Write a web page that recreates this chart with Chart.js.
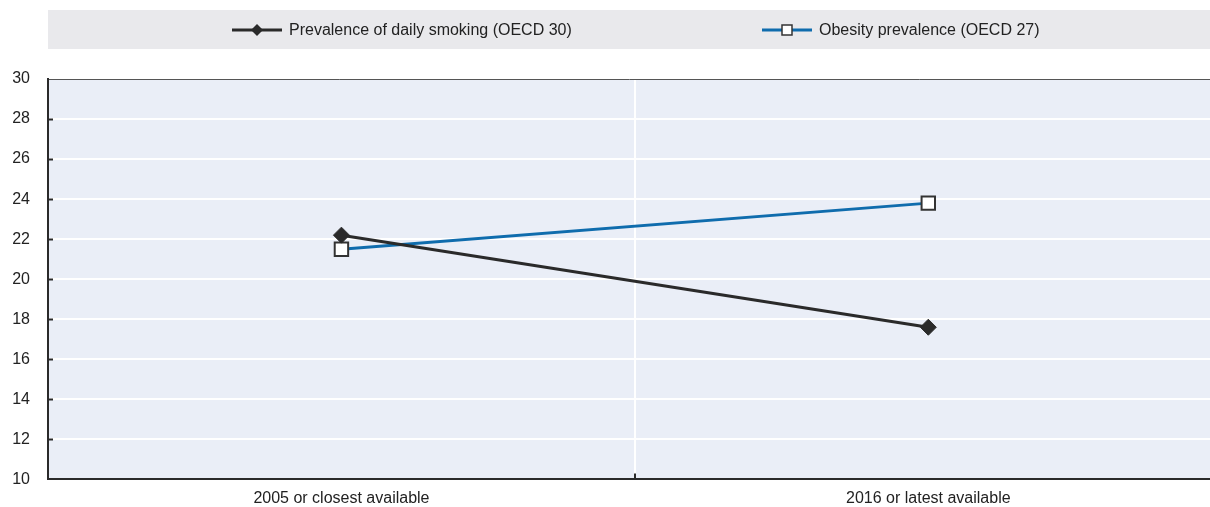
<!DOCTYPE html>
<html>
<head>
<meta charset="utf-8">
<script src="https://cdn.jsdelivr.net/npm/chart.js@4/dist/chart.umd.min.js"></script>
<style>
  html, body { margin: 0; padding: 0; background: #fff; overflow: hidden; }
  #wrap { width: 1210px; height: 507px; position: relative; }
</style>
</head>
<body>
<div id="wrap"><canvas id="c"></canvas></div>
<script>
const categories = ["2005 or closest available", "2016 or latest available"];
const smoking = [22.2, 17.6];
const obesity = [21.5, 23.8];
const seriesNames = ["Prevalence of daily smoking (OECD 30)", "Obesity prevalence (OECD 27)"];
const yTicks = [10, 12, 14, 16, 18, 20, 22, 24, 26, 28, 30];

const FONT = '"Liberation Sans Narrow", "Arial Narrow", "Liberation Sans", Arial, sans-serif';
const DARK = '#2a2a2a';
const BLUE = '#0f6cad';

// category index -> x position; the panel is cut at its right edge
const toPoints = vals => vals.map((v, i) => ({ x: i, y: v }));

// Background panel behind the plot and the legend strip above it
const panels = {
  id: 'panels',
  beforeDraw(chart) {
    const { ctx, chartArea: a } = chart;
    ctx.save();
    ctx.fillStyle = '#e9e9ec';
    ctx.fillRect(48, 10, chart.width - 48, 39);
    ctx.fillStyle = '#eaeef7';
    ctx.fillRect(a.left, a.top, a.right - a.left, a.bottom - a.top);
    ctx.restore();
  },
  afterDraw(chart) {
    const { ctx, chartArea: a, scales } = chart;
    ctx.save();
    // inward tick marks on the value axis
    ctx.strokeStyle = DARK;
    ctx.lineWidth = 2;
    yTicks.forEach(v => {
      if (v === 10 || v === 30) return;
      const y = Math.round(scales.y.getPixelForValue(v)) + 0.5;
      ctx.beginPath(); ctx.moveTo(a.left, y); ctx.lineTo(a.left + 5, y); ctx.stroke();
    });
    // inward tick mark between categories
    const mx = Math.round(scales.x.getPixelForValue(0.5));
    ctx.beginPath(); ctx.moveTo(mx, a.bottom); ctx.lineTo(mx, a.bottom - 6); ctx.stroke();

    // legend entries
    const items = [
      { x: 232, name: seriesNames[0], color: DARK, marker: 'diamond' },
      { x: 762, name: seriesNames[1], color: BLUE, marker: 'square' }
    ];
    const ly = 30;
    items.forEach(it => {
      ctx.strokeStyle = it.color;
      ctx.lineWidth = 3;
      ctx.beginPath(); ctx.moveTo(it.x, ly); ctx.lineTo(it.x + 50, ly); ctx.stroke();
      const cx = it.x + 25;
      if (it.marker === 'diamond') {
        ctx.fillStyle = DARK;
        ctx.beginPath();
        ctx.moveTo(cx, ly - 6); ctx.lineTo(cx + 6, ly); ctx.lineTo(cx, ly + 6); ctx.lineTo(cx - 6, ly);
        ctx.closePath(); ctx.fill();
      } else {
        ctx.fillStyle = '#fff';
        ctx.strokeStyle = '#333';
        ctx.lineWidth = 1.5;
        ctx.fillRect(cx - 5, ly - 5, 10, 10);
        ctx.strokeRect(cx - 5, ly - 5, 10, 10);
      }
      ctx.fillStyle = '#222';
      ctx.font = '16px ' + FONT;
      ctx.textBaseline = 'middle';
      ctx.textAlign = 'left';
      ctx.fillText(it.name, it.x + 57, ly + 1);
    });
    ctx.restore();
  }
};

new Chart(document.getElementById('c'), {
  type: 'line',
  data: {
    datasets: [
      {
        label: seriesNames[0],
        data: toPoints(smoking),
        borderColor: DARK,
        backgroundColor: DARK,
        borderWidth: 3,
        pointStyle: 'rectRot',
        pointRadius: 8,
        pointHoverRadius: 8,
        pointBackgroundColor: DARK,
        pointBorderColor: DARK,
        pointBorderWidth: 1
      },
      {
        label: seriesNames[1],
        data: toPoints(obesity),
        borderColor: BLUE,
        backgroundColor: BLUE,
        borderWidth: 3,
        pointStyle: 'rect',
        pointRadius: 9.5,
        pointHoverRadius: 9.5,
        pointBackgroundColor: '#ffffff',
        pointBorderColor: '#333333',
        pointBorderWidth: 2
      }
    ]
  },
  options: {
    responsive: true,
    maintainAspectRatio: false,
    animation: false,
    events: [],
    layout: { autoPadding: false, padding: { top: 79, right: 0, left: 0, bottom: 0 } },
    plugins: { legend: { display: false }, tooltip: { enabled: false } },
    scales: {
      x: {
        type: 'linear',
        min: -0.5,
        max: 1.48,
        afterBuildTicks(s) { s.ticks = [0, 0.5, 1].map(v => ({ value: v })); },
        grid: {
          drawTicks: false,
          color: c => (c.tick && c.tick.value === 0.5) ? '#ffffff' : 'rgba(0,0,0,0)',
          lineWidth: 2
        },
        border: { color: DARK, width: 2 },
        ticks: {
          color: '#222',
          font: { family: FONT, size: 16 },
          padding: 10,
          autoSkip: false,
          maxRotation: 0,
          callback: v => (Number.isInteger(v) ? categories[v] : '')
        },
        afterFit(s) { s.height = 25; s.paddingLeft = 0; s.paddingRight = 0; }
      },
      y: {
        min: 10,
        max: 30,
        afterBuildTicks(s) { s.ticks = yTicks.map(v => ({ value: v })); },
        grid: {
          drawTicks: false,
          color: c => (c.tick && c.tick.value === 30) ? '#555555' : '#ffffff',
          lineWidth: c => (c.tick && c.tick.value === 30) ? 1 : 2
        },
        border: { color: DARK, width: 2 },
        ticks: { color: '#222', font: { family: FONT, size: 16 }, padding: 18 },
        afterFit(s) { s.width = 48; }
      }
    }
  },
  plugins: [panels]
});
</script>
</body>
</html>
